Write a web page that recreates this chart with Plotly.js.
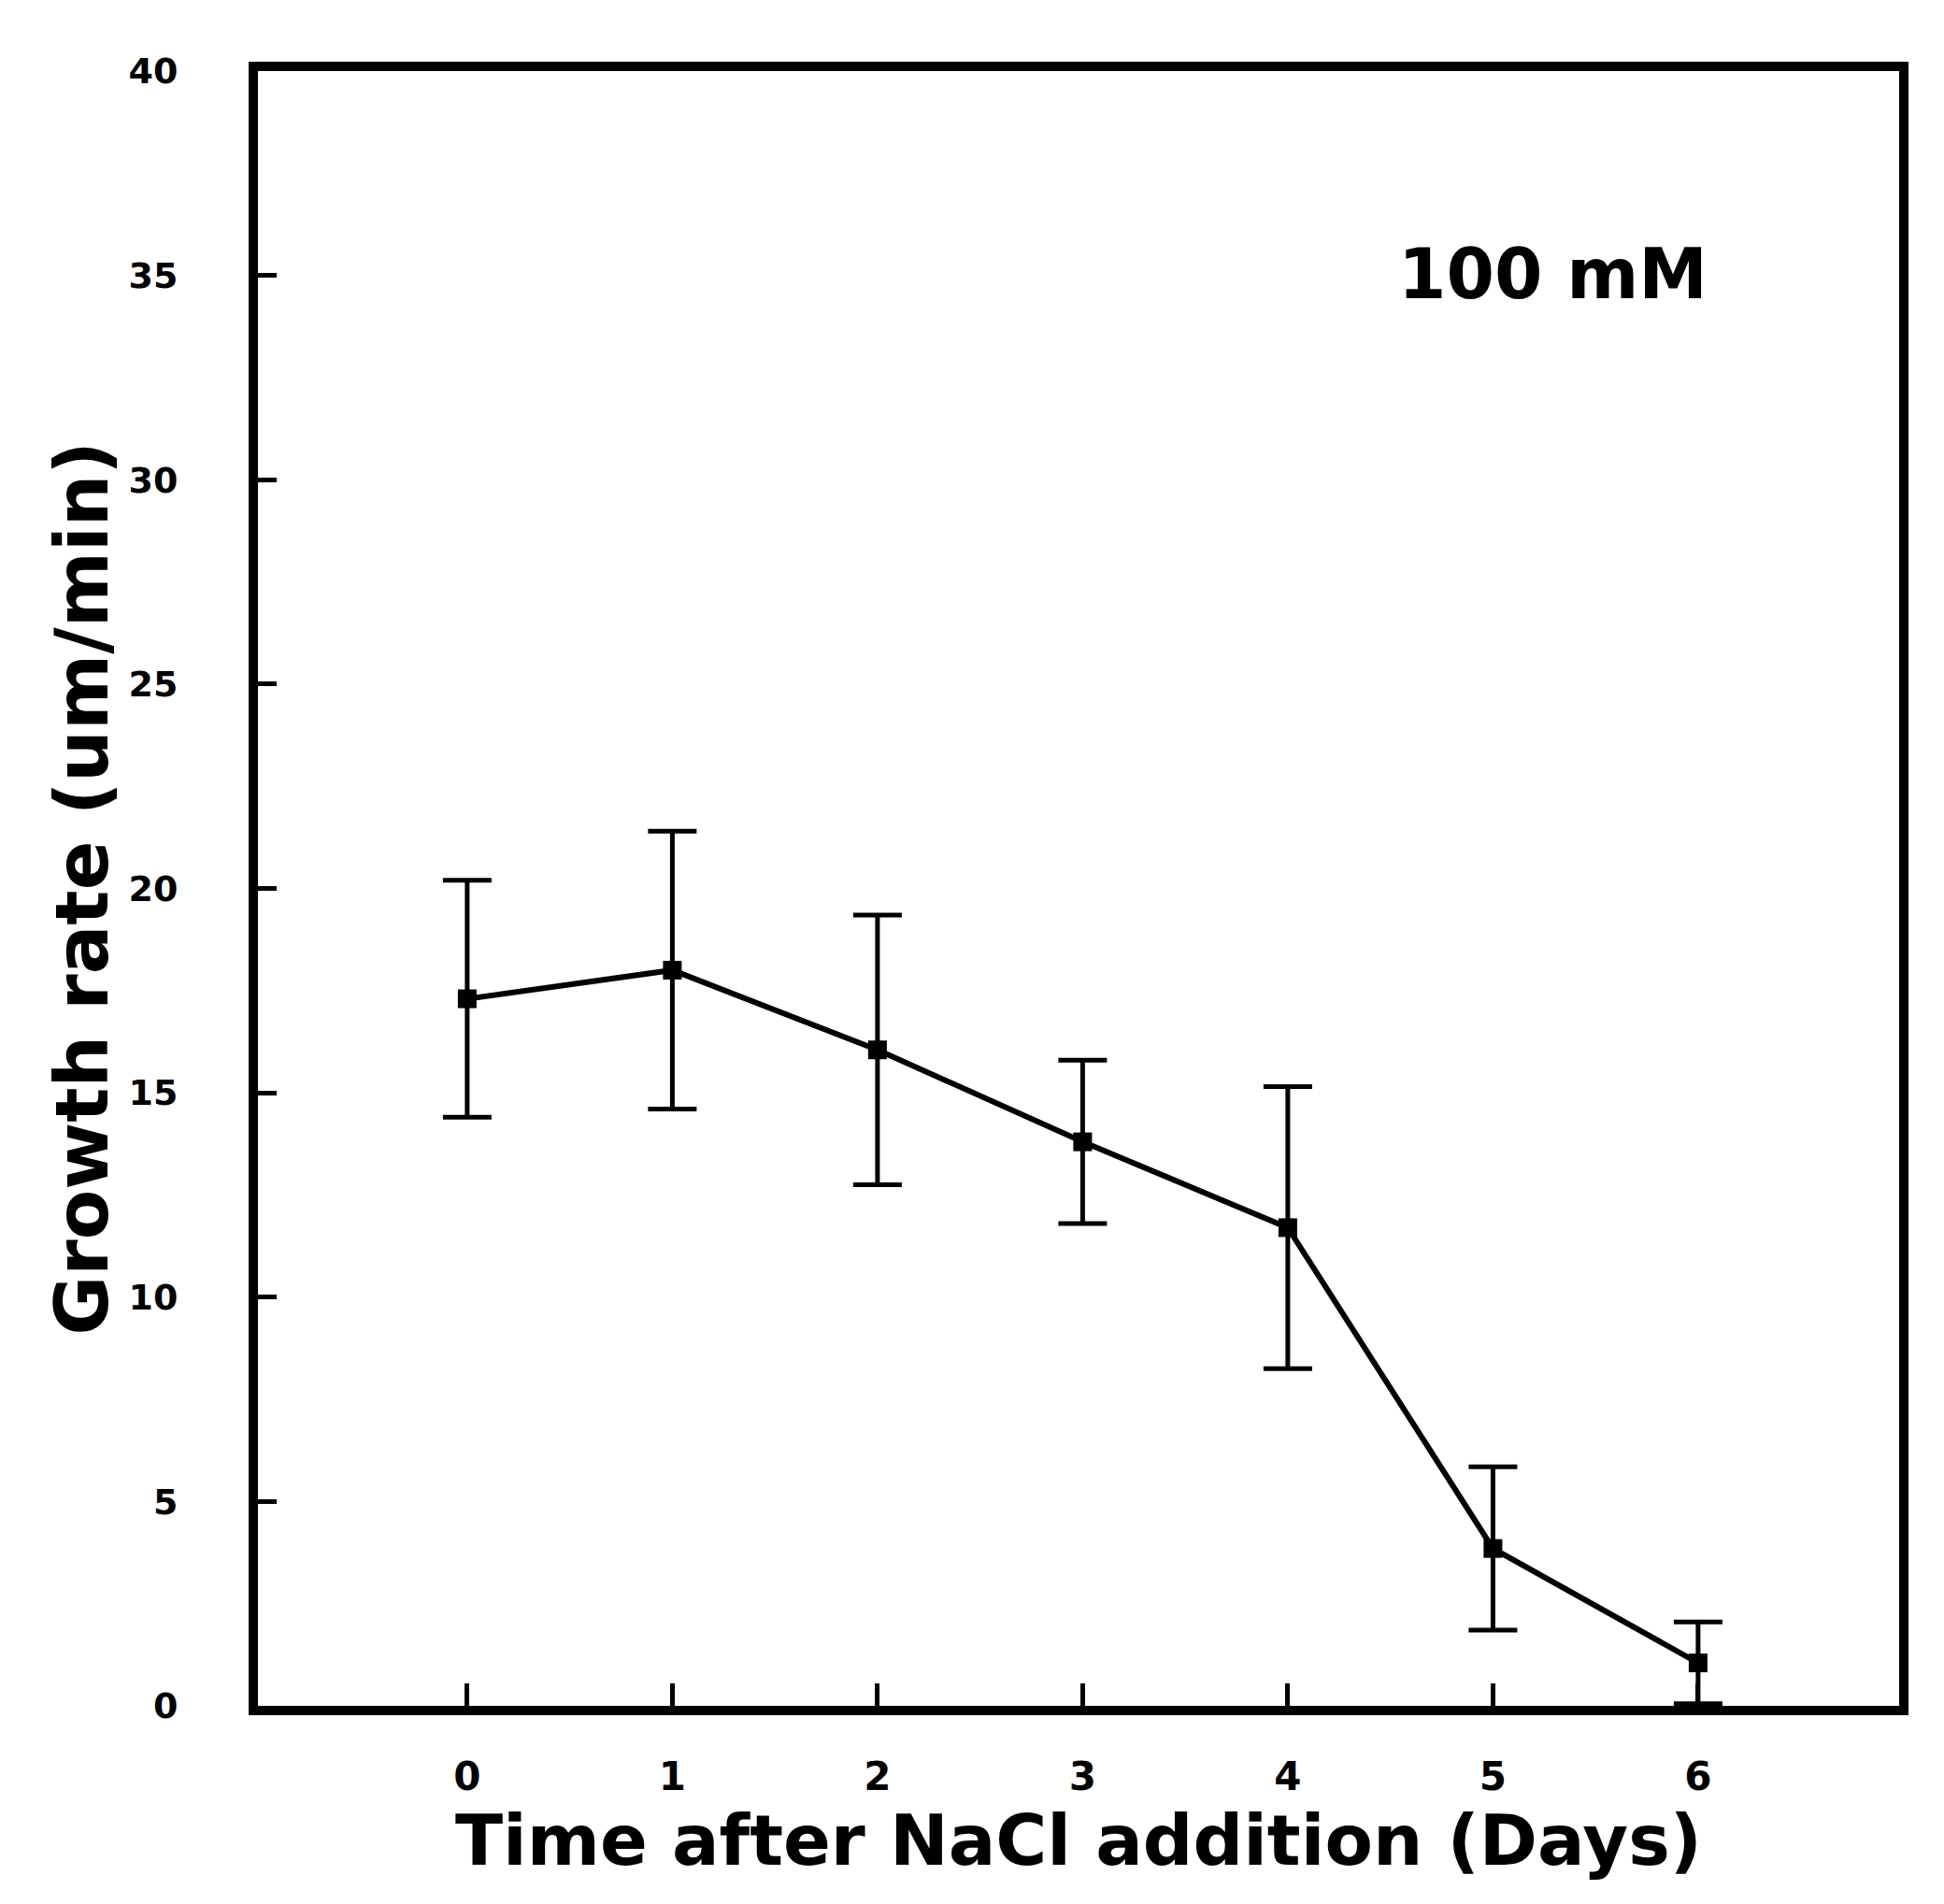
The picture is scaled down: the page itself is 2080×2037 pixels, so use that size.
<!DOCTYPE html>
<html>
<head>
<meta charset="utf-8">
<script src="https://cdn.plot.ly/plotly-3.0.1.min.js"></script>
<style>html,body{margin:0;padding:0;background:#fff;}</style>
</head>
<body>
<div id="chart" style="width:2080px;height:2037px;"></div>
<script>
const days = [0, 1, 2, 3, 4, 5, 6];
const growthRate = [17.3, 18.0, 16.05, 13.8, 11.7, 3.85, 1.05];
const errorValue = [2.9, 3.4, 3.3, 2.0, 3.45, 2.0, 1.0];
const xTickLabels = ['0', '1', '2', '3', '4', '5', '6'];
const yTickValues = [0, 5, 10, 15, 20, 25, 30, 35, 40];
const panelLabel = '100 mM';

const fontFamily = '"DejaVu Sans", "Liberation Sans", Arial, sans-serif';

const trace = {
  x: days,
  y: growthRate,
  type: 'scatter',
  mode: 'lines+markers',
  line: {color: '#000', width: 6},
  marker: {color: '#000', size: 20, symbol: 'square'},
  error_y: {type: 'data', array: errorValue, visible: true, color: '#000', thickness: 5, width: 26},
  showlegend: false
};

const layout = {
  width: 2080,
  height: 2037,
  paper_bgcolor: '#fff',
  plot_bgcolor: '#fff',
  margin: {l: 276, r: 48, t: 76, b: 212},
  xaxis: {
    range: [-1.02, 6.98],
    tickvals: days,
    ticktext: xTickLabels,
    ticks: 'inside',
    ticklen: 24,
    tickwidth: 5,
    tickcolor: '#000',
    showgrid: false,
    zeroline: false,
    showline: true,
    linecolor: '#000',
    linewidth: 10,
    mirror: true,
    ticklabelstandoff: 30,
    tickfont: {family: fontFamily, size: 42, color: '#000', weight: 'bold'},
    title: {text: 'Time after NaCl addition (Days)', standoff: 8,
            font: {family: fontFamily, size: 75, color: '#000', weight: 'bold'}}
  },
  yaxis: {
    range: [0, 40],
    tickvals: yTickValues,
    ticks: 'inside',
    ticklen: 20,
    tickwidth: 5,
    tickcolor: '#000',
    showgrid: false,
    zeroline: false,
    showline: true,
    linecolor: '#000',
    linewidth: 10,
    mirror: true,
    ticklabelstandoff: 68,
    tickfont: {family: fontFamily, size: 38, color: '#000', weight: 'bold'},
    title: {text: 'Growth rate (um/min)', standoff: 0,
            font: {family: fontFamily, size: 78, color: '#000', weight: 'bold'}}
  },
  annotations: [{
    text: panelLabel, xref: 'paper', yref: 'paper', x: 0.789, y: 0.876,
    xanchor: 'center', yanchor: 'middle', showarrow: false,
    font: {family: fontFamily, size: 74, color: '#000', weight: 'bold'}
  }]
};

Plotly.newPlot('chart', [trace], layout, {displayModeBar: false, staticPlot: true});
</script>
</body>
</html>
